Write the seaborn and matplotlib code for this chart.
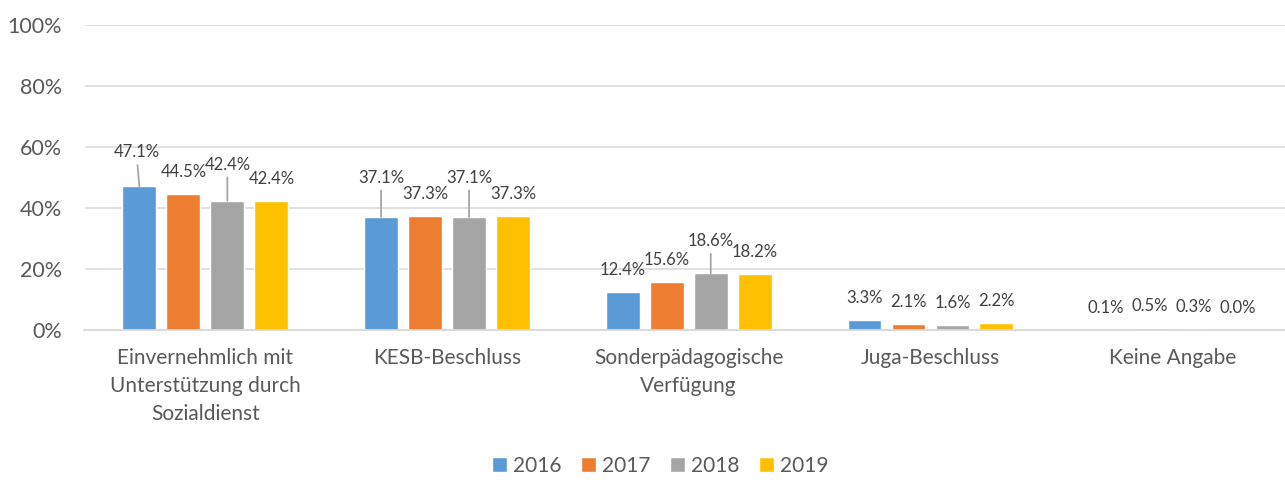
import matplotlib
matplotlib.use("Agg")
import matplotlib.pyplot as plt
import seaborn as sns
import pandas as pd
from matplotlib.ticker import PercentFormatter

# --- data -------------------------------------------------------------------
categories = [
    "Einvernehmlich mit\nUnterstützung durch\nSozialdienst",
    "KESB-Beschluss",
    "Sonderpädagogische\nVerfügung",
    "Juga-Beschluss",
    "Keine Angabe",
]
years = ["2016", "2017", "2018", "2019"]
share_2016 = [47.1, 37.1, 12.4, 3.3, 0.1]
share_2017 = [44.5, 37.3, 15.6, 2.1, 0.5]
share_2018 = [42.4, 37.1, 18.6, 1.6, 0.3]
share_2019 = [42.4, 37.3, 18.2, 2.2, 0.0]

colors = ["#5B9BD5", "#ED7D31", "#A5A5A5", "#FFC000"]

# labels Excel moved by hand (category, year) -> x shift, extra lift in px
moved_labels = {(0, 0): (-3, 12), (0, 2): (0, 14), (1, 0): (0, 17),
                (1, 2): (0, 17), (2, 2): (0, 10)}

rows = []
for yr, vals in zip(years, [share_2016, share_2017, share_2018, share_2019]):
    for cat, v in zip(categories, vals):
        rows.append({"Kategorie": cat, "Jahr": yr, "Anteil": v / 100})
df = pd.DataFrame(rows)

# --- style --------------------------------------------------------------------
sns.set_theme(style="white")
plt.rcParams["font.family"] = ["Lato", "DejaVu Sans"]
txt_grey = "#595959"

fig = plt.figure(figsize=(12.85, 4.8), dpi=100)
ax = fig.add_axes([84.5 / 1285, 150 / 480, (1285 - 84.5) / 1285, 305 / 480])

sns.barplot(data=df, x="Kategorie", y="Anteil", hue="Jahr", palette=colors,
            width=0.728, gap=0.23, saturation=1, ax=ax, legend=True)

ax.set_ylim(0, 1)
ax.set_xlim(-0.5, -0.5 + (1285 - 84.5) / 241.7)
ax.yaxis.set_major_formatter(PercentFormatter(1, decimals=0))
ax.set_yticks([0, 0.2, 0.4, 0.6, 0.8, 1.0])
ax.grid(axis="y", color="#D9D9D9", linewidth=1.1)
ax.set_axisbelow(True)
for s in ["top", "right", "left"]:
    ax.spines[s].set_visible(False)
ax.spines["bottom"].set_color("#D9D9D9")
ax.spines["bottom"].set_linewidth(1.3)
ax.set_xlabel("")
ax.set_ylabel("")
ax.tick_params(axis="y", length=0, pad=16, labelsize=15.5, labelcolor=txt_grey)
ax.tick_params(axis="x", length=0, pad=13, labelsize=15, labelcolor=txt_grey)
for t in ax.get_xticklabels():
    t.set_linespacing(1.5)

# data labels
for j, cont in enumerate(ax.containers):
    for i, bar in enumerate(cont):
        x = bar.get_x() + bar.get_width() / 2
        h = bar.get_height()
        dx, dy = moved_labels.get((i, j), (0, 0))
        kw = {}
        if (i, j) in moved_labels:
            kw["arrowprops"] = dict(arrowstyle="-", color="#A6A6A6", lw=1.3,
                                    shrinkA=1, shrinkB=0)
        ax.annotate(f"{h * 100:.1f}%", xy=(x, h), xytext=(dx, 22 + dy),
                    textcoords="offset pixels", ha="center", va="center",
                    fontsize=12, color="#404040", **kw)

handles, labels = ax.get_legend_handles_labels()
ax.legend_.remove()
fig.legend(handles, labels, loc="lower center", bbox_to_anchor=(0.514, -0.02),
           ncol=4, frameon=False, fontsize=15, handlelength=0.7,
           handleheight=0.7, handletextpad=0.3, columnspacing=0.95,
           borderpad=0.15, labelcolor=txt_grey)

fig.savefig("out.png", dpi=100)
